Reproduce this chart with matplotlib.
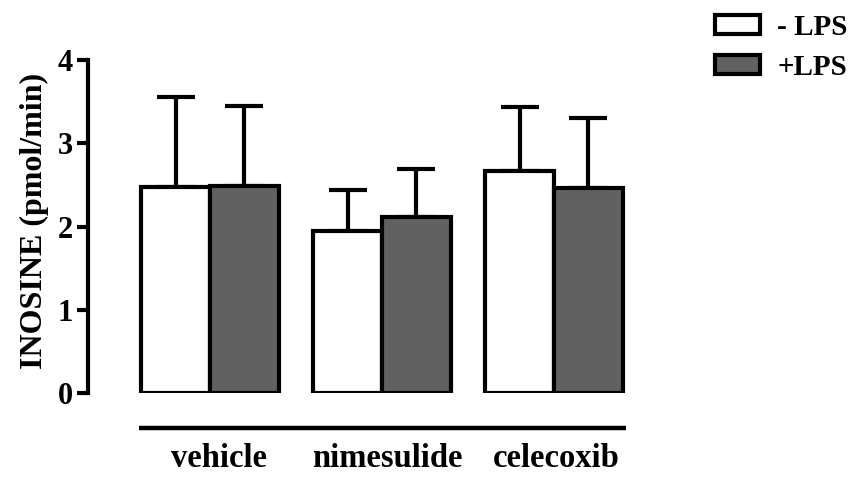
import matplotlib
matplotlib.use("Agg")
import matplotlib.pyplot as plt
import numpy as np
from matplotlib.transforms import blended_transform_factory, ScaledTranslation

# Inosine release per treatment, without and with LPS (mean and SD)
categories = ["vehicle", "nimesulide", "celecoxib"]
series_labels = ["- LPS", "+LPS"]
mean_minus_lps = [2.47, 1.95, 2.67]
sd_minus_lps = [1.09, 0.49, 0.77]
mean_plus_lps = [2.49, 2.11, 2.46]
sd_plus_lps = [0.96, 0.58, 0.84]
y_ticks = [0, 1, 2, 3, 4]
y_label = "INOSINE (pmol/min)"

plt.rcParams["font.family"] = ["Liberation Serif", "DejaVu Serif"]
plt.rcParams["font.weight"] = "bold"

W, H = 861, 478
fig = plt.figure(figsize=(W / 100, H / 100), dpi=100)

# axes placed in pixel terms
left_px, right_px, top_px, bottom_px = 88, 640, 60, 393.3
ax = fig.add_axes([left_px / W, 1 - bottom_px / H,
                   (right_px - left_px) / W, (bottom_px - top_px) / H])

x = np.arange(len(categories))
bw = 0.40
lw = 3.0
colors = ["white", "#616161"]

for i, (m, s) in enumerate([(mean_minus_lps, sd_minus_lps),
                            (mean_plus_lps, sd_plus_lps)]):
    xs = x + (i - 0.5) * bw
    ax.bar(xs, m, width=bw, color=colors[i], edgecolor="black",
           linewidth=lw, label=series_labels[i], zorder=3)
    ax.errorbar(xs, m, yerr=[np.zeros(len(s)), s], fmt="none",
                ecolor="black", elinewidth=lw, capsize=13.5, capthick=lw,
                zorder=2)

ax.set_xlim(-0.709, 2.50)
ax.set_ylim(0, 4)
ax.set_yticks(y_ticks)
ax.set_yticklabels([str(t) for t in y_ticks], fontsize=22, fontweight="bold")

for side in ["top", "right", "bottom"]:
    ax.spines[side].set_visible(False)
ax.spines["left"].set_linewidth(3)
ax.spines["left"].set_capstyle("projecting")
ax.tick_params(axis="y", length=8, width=3, pad=3)
ax.tick_params(axis="x", length=0, pad=36)
ax.set_xticks(x)
ax.set_xticklabels(categories, fontsize=23.5, fontweight="bold")
# nudge category names slightly to the right (inches)
for lbl, dx in zip(ax.get_xticklabels(), [0.09, 0.05, 0.02]):
    lbl.set_transform(lbl.get_transform() +
                      ScaledTranslation(dx, 0, fig.dpi_scale_trans))

ax.set_ylabel(y_label, fontsize=23, fontweight="bold")
ax.yaxis.set_label_coords(-0.071, 0.516)

# group bracket line under the bars
trans = blended_transform_factory(ax.transData, ax.transAxes)
ax.plot([x[0] - bw - 0.01, x[-1] + bw + 0.02], [-0.104, -0.104],
        color="black", lw=3.2, transform=trans, clip_on=False,
        solid_capstyle="butt")

leg = ax.legend(loc="upper left", bbox_to_anchor=(703 / W, 1 - 2 / H),
                bbox_transform=fig.transFigure, frameon=False,
                prop={"weight": "bold", "size": 21},
                handlelength=1.55, handleheight=0.62, handletextpad=0.6,
                labelspacing=0.45, borderaxespad=0)

fig.savefig("out.png", dpi=100)
